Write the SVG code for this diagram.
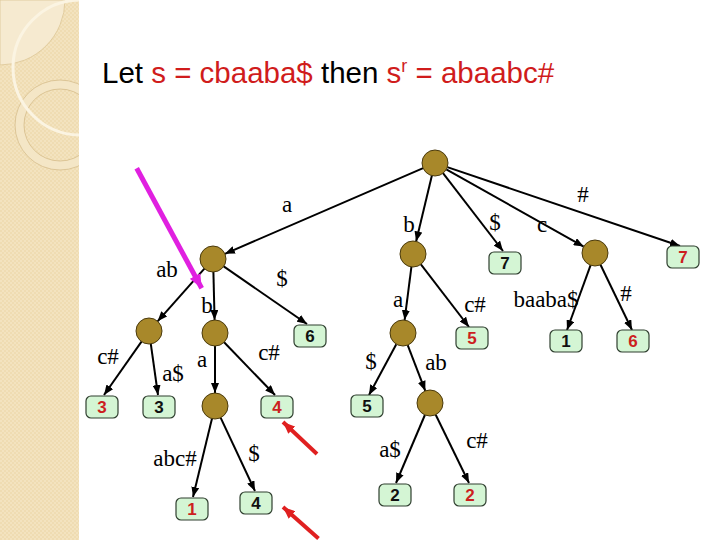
<svg xmlns="http://www.w3.org/2000/svg" width="720" height="540" viewBox="0 0 720 540">
<style>
.nd{fill:#a8882a;stroke:#4a3a0c;stroke-width:1}
.bx{fill:#d4f5d4;stroke:#2f3f2f;stroke-width:1.2}
.num{font-family:"Liberation Sans",Arial,sans-serif;font-weight:bold;font-size:17px;text-anchor:middle}
.r{fill:#cc1f1f}
.k{fill:#111}
.e{stroke:#000;stroke-width:2;fill:none;marker-end:url(#ah)}
.lb{font-family:"Liberation Serif","Times New Roman",serif;font-size:23px;fill:#000;text-anchor:middle}
.ttl{font-family:"Liberation Sans",Arial,sans-serif;font-size:29.5px}
</style>
<defs>
<marker id="ah" markerUnits="userSpaceOnUse" markerWidth="10" markerHeight="8" refX="10" refY="4" orient="auto"><path d="M0,0 L10,4 L0,8 z" fill="#000"/></marker>
<marker id="mh" markerUnits="userSpaceOnUse" markerWidth="14" markerHeight="12" refX="14" refY="6" orient="auto"><path d="M0,0 L14,6 L0,12 z" fill="#e020e0"/></marker>
<marker id="rh" markerUnits="userSpaceOnUse" markerWidth="12" markerHeight="10" refX="12" refY="5" orient="auto"><path d="M0,0 L12,5 L0,10 z" fill="#e02020"/></marker>
<pattern id="tex" width="4" height="4" patternUnits="userSpaceOnUse"><rect width="4" height="4" fill="#efdcb2"/><rect width="2" height="2" fill="#f3e3bf"/><rect x="2" y="2" width="2" height="2" fill="#f3e3bf"/></pattern>
<clipPath id="strip"><rect x="0" y="0" width="79" height="540"/></clipPath>
</defs>
<rect width="720" height="540" fill="#fff"/>
<g id="background-strip" clip-path="url(#strip)">
<rect x="0" y="0" width="79" height="540" fill="url(#tex)"/>
<path d="M0,0 L65,0 A65,65 0 0 1 0,65 z" fill="#f6ead0" stroke="#dcc594" stroke-width="0.8"/>
<circle cx="60" cy="125" r="40.5" fill="none" stroke="#f4e6c6" stroke-width="9"/>
<circle cx="60" cy="125" r="45" fill="none" stroke="#d6bd8a" stroke-width="0.8"/>
<circle cx="60" cy="125" r="36" fill="none" stroke="#d6bd8a" stroke-width="0.8"/>
<circle cx="80.5" cy="67.5" r="67.5" fill="none" stroke="#fbf4e2" stroke-width="3"/>
</g>
<g id="title"><text class="ttl" x="102" y="83"><tspan fill="#000">Let </tspan><tspan fill="#d01c1c">s = cbaaba$</tspan><tspan fill="#000"> then </tspan><tspan fill="#d01c1c">s</tspan><tspan fill="#d01c1c" font-size="18" dy="-11">r</tspan><tspan fill="#d01c1c" dy="11"> = abaabc#</tspan></text></g>
<g id="connectors">
<line class="e" x1="423.1" y1="168.2" x2="224.9" y2="253.8"/>
<line class="e" x1="431.9" y1="175.6" x2="416.1" y2="241.4"/>
<line class="e" x1="443" y1="173.2" x2="503" y2="251"/>
<line class="e" x1="446.3" y1="169.4" x2="583.7" y2="246.6"/>
<line class="e" x1="447.3" y1="167.1" x2="680" y2="246"/>
<line class="e" x1="204.4" y1="268.7" x2="157.6" y2="321.3"/>
<line class="e" x1="213.4" y1="272" x2="214.6" y2="320"/>
<line class="e" x1="223.7" y1="266.4" x2="307" y2="324"/>
<line class="e" x1="141.5" y1="341.6" x2="104" y2="395"/>
<line class="e" x1="150.8" y1="343.9" x2="158" y2="395"/>
<line class="e" x1="215" y1="346" x2="215" y2="393"/>
<line class="e" x1="224.1" y1="342.3" x2="275" y2="395"/>
<line class="e" x1="212" y1="418.6" x2="193" y2="497"/>
<line class="e" x1="220.6" y1="417.7" x2="255" y2="491"/>
<line class="e" x1="411.4" y1="266.9" x2="404.6" y2="320.1"/>
<line class="e" x1="420.9" y1="264.3" x2="469" y2="327"/>
<line class="e" x1="590.6" y1="265.2" x2="567" y2="330"/>
<line class="e" x1="600.5" y1="264.8" x2="632" y2="330"/>
<line class="e" x1="396.3" y1="344.2" x2="369" y2="395"/>
<line class="e" x1="407.7" y1="345.1" x2="425.3" y2="390.9"/>
<line class="e" x1="424.9" y1="415" x2="396" y2="483"/>
<line class="e" x1="435.7" y1="414.7" x2="469" y2="483"/>
</g>
<g id="edge-labels">
<text class="lb" x="287" y="212">a</text>
<text class="lb" x="409" y="232">b</text>
<text class="lb" x="495" y="230">$</text>
<text class="lb" x="542" y="232">c</text>
<text class="lb" x="583" y="202">#</text>
<text class="lb" x="167" y="277">ab</text>
<text class="lb" x="207" y="313">b</text>
<text class="lb" x="282" y="286">$</text>
<text class="lb" x="398" y="307">a</text>
<text class="lb" x="475" y="312">c#</text>
<text class="lb" x="546" y="307">baaba$</text>
<text class="lb" x="626" y="301">#</text>
<text class="lb" x="108" y="364">c#</text>
<text class="lb" x="173" y="381">a$</text>
<text class="lb" x="202" y="367">a</text>
<text class="lb" x="269" y="360">c#</text>
<text class="lb" x="371" y="369">$</text>
<text class="lb" x="436" y="370">ab</text>
<text class="lb" x="175" y="466">abc#</text>
<text class="lb" x="254" y="461">$</text>
<text class="lb" x="390" y="457">a$</text>
<text class="lb" x="477" y="448">c#</text>
</g>
<g id="n-root"><circle class="nd" cx="435" cy="163" r="13"/></g>
<g id="n-a"><circle class="nd" cx="213" cy="259" r="13"/></g>
<g id="n-aab"><circle class="nd" cx="149" cy="331" r="13"/></g>
<g id="n-ab"><circle class="nd" cx="215" cy="333" r="13"/></g>
<g id="n-aba"><circle class="nd" cx="215" cy="406" r="13"/></g>
<g id="n-b"><circle class="nd" cx="413" cy="254" r="13"/></g>
<g id="n-ba"><circle class="nd" cx="403" cy="333" r="13"/></g>
<g id="n-baab"><circle class="nd" cx="430" cy="403" r="13"/></g>
<g id="n-c"><circle class="nd" cx="595" cy="253" r="13"/></g>
<g id="leaf-3r"><rect class="bx" x="86" y="396" width="32" height="22" rx="5"/><text class="num r" x="102" y="413">3</text></g>
<g id="leaf-3k"><rect class="bx" x="143" y="396" width="32" height="22" rx="5"/><text class="num k" x="159" y="413">3</text></g>
<g id="leaf-6k"><rect class="bx" x="294" y="325" width="32" height="22" rx="5"/><text class="num k" x="310" y="342">6</text></g>
<g id="leaf-4r"><rect class="bx" x="261" y="396" width="32" height="22" rx="5"/><text class="num r" x="277" y="413">4</text></g>
<g id="leaf-1r"><rect class="bx" x="176" y="498" width="32" height="22" rx="5"/><text class="num r" x="192" y="515">1</text></g>
<g id="leaf-4k"><rect class="bx" x="240" y="492" width="32" height="22" rx="5"/><text class="num k" x="256" y="509">4</text></g>
<g id="leaf-7k"><rect class="bx" x="489" y="252" width="32" height="22" rx="5"/><text class="num k" x="505" y="269">7</text></g>
<g id="leaf-7r"><rect class="bx" x="667" y="246" width="32" height="22" rx="5"/><text class="num r" x="683" y="263">7</text></g>
<g id="leaf-5r"><rect class="bx" x="456" y="327" width="32" height="22" rx="5"/><text class="num r" x="472" y="344">5</text></g>
<g id="leaf-1k"><rect class="bx" x="550" y="330" width="32" height="22" rx="5"/><text class="num k" x="566" y="347">1</text></g>
<g id="leaf-6r"><rect class="bx" x="617" y="330" width="32" height="22" rx="5"/><text class="num r" x="633" y="347">6</text></g>
<g id="leaf-5k"><rect class="bx" x="351" y="395" width="32" height="22" rx="5"/><text class="num k" x="367" y="412">5</text></g>
<g id="leaf-2k"><rect class="bx" x="379" y="484" width="32" height="22" rx="5"/><text class="num k" x="395" y="501">2</text></g>
<g id="leaf-2r"><rect class="bx" x="454" y="484" width="32" height="22" rx="5"/><text class="num r" x="470" y="501">2</text></g>
<g id="pointers">
<line x1="136.7" y1="168.3" x2="201.7" y2="288.3" stroke="#e020e0" stroke-width="5" marker-end="url(#mh)"/>
<line x1="317" y1="454" x2="283" y2="422" stroke="#e02020" stroke-width="4" marker-end="url(#rh)"/>
<line x1="318.5" y1="538.5" x2="283" y2="507" stroke="#e02020" stroke-width="4" marker-end="url(#rh)"/>
</g>
</svg>
